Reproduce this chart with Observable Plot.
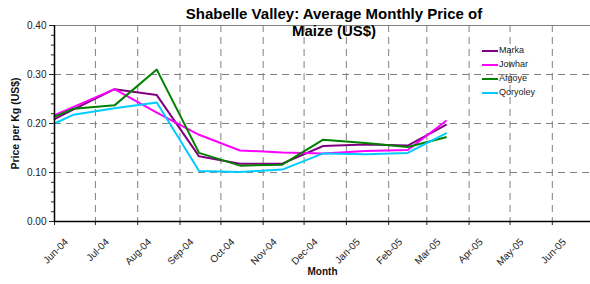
<!DOCTYPE html>
<html>
<head>
<meta charset="utf-8">
<script src="https://cdn.jsdelivr.net/npm/d3@7"></script>
<script src="https://cdn.jsdelivr.net/npm/@observablehq/plot@0.6"></script>
<style>
  html, body { margin: 0; padding: 0; background: white; }
  #wrap { position: relative; width: 590px; height: 284px; font-family: "Liberation Sans", Arial, sans-serif; }
  #title { position: absolute; left: 334px; top: 5px; transform: translateX(-50%); font-size: 15px; font-weight: bold; line-height: 17px; text-align: center; white-space: nowrap; color: #000; }
  #legend { position: absolute; left: 482px; top: 44px; font-size: 9px; color: #222; }
  .item { position: absolute; left: 0; height: 14px; white-space: nowrap; }
  .sw { position: absolute; left: 0; top: 6px; width: 16px; height: 2px; }
  .lab { position: absolute; left: 17px; top: 1px; }
</style>
</head>
<body>
<div id="wrap"></div>
<script>
const dates = ["2004-06-01","2004-06-15","2004-07-15","2004-08-15","2004-09-15","2004-10-15","2004-11-15","2004-12-15","2005-01-15","2005-02-15","2005-03-15"];
const seriesNames = ["Marka","Jowhar","Afgoye","Qoryoley"];
const seriesColors = ["#800080","#ff00ff","#008000","#00ccff"];
const marka    = [0.209, 0.229, 0.270, 0.258, 0.133, 0.118, 0.118, 0.154, 0.157, 0.155, 0.197];
const jowhar   = [0.217, 0.234, 0.270, 0.222, 0.177, 0.145, 0.141, 0.139, 0.144, 0.146, 0.205];
const afgoye   = [0.214, 0.230, 0.237, 0.310, 0.140, 0.114, 0.116, 0.167, 0.160, 0.152, 0.172];
const qoryoley = [0.200, 0.218, 0.231, 0.243, 0.103, 0.101, 0.106, 0.139, 0.137, 0.140, 0.180];
const monthTicks = ["2004-06-01","2004-07-01","2004-08-01","2004-09-01","2004-10-01","2004-11-01","2004-12-01","2005-01-01","2005-02-01","2005-03-01","2005-04-01","2005-05-01","2005-06-01"];
const yMajor = [0, 0.1, 0.2, 0.3, 0.4];
const yMinor = [0,0.02,0.04,0.06,0.08,0.1,0.12,0.14,0.16,0.18,0.2,0.22,0.24,0.26,0.28,0.3,0.32,0.34,0.36,0.38,0.4];
const xDomain = ["2004-06-01","2005-06-29"];

const seriesValues = [marka, jowhar, afgoye, qoryoley];
const rows = [];
seriesNames.forEach((s, i) => dates.forEach((d, j) => rows.push({series: s, date: new Date(d), value: seriesValues[i][j]})));
const months = monthTicks.map(d => new Date(d));
const fmt = d3.utcFormat("%b-%y");

const chart = Plot.plot({
  width: 590, height: 284,
  marginLeft: 54, marginRight: 0, marginTop: 25, marginBottom: 63,
  x: {type: "utc", domain: xDomain.map(d => new Date(d))},
  y: {domain: [0, 0.4]},
  color: {domain: seriesNames, range: seriesColors},
  style: {fontFamily: "'Liberation Sans', Arial, sans-serif", fontSize: "10px", color: "#222", background: "white", overflow: "visible"},
  marks: [
    Plot.gridX(months.slice(1), {stroke: "#808080", strokeOpacity: 1, strokeDasharray: "7,5"}),
    Plot.gridY(yMajor.slice(1, 4), {stroke: "#808080", strokeOpacity: 1, strokeDasharray: "7,5"}),
    Plot.ruleY([0.4], {stroke: "#808080"}),
    Plot.axisY(yMinor, {tickSize: 3, tickFormat: () => "", label: null}),
    Plot.axisY(yMajor, {tickSize: 5, tickPadding: 3, tickFormat: ".2f", label: null, fontSize: 10}),
    Plot.axisX(months, {tickSize: 4, tickFormat: () => "", label: null}),
    Plot.axisX(months, {tickSize: 0, tickRotate: -45, tickFormat: fmt, label: null, fontSize: 10, dx: 12, dy: 7, fill: "#222"}),
    Plot.line(rows, {x: "date", y: "value", stroke: "series", strokeWidth: 2, z: "series"}),
    Plot.ruleX([new Date(xDomain[0])], {stroke: "black", strokeWidth: 1.5}),
    Plot.ruleY([0], {stroke: "black", strokeWidth: 1.5}),
    Plot.text(["Price per Kg (US$)"], {frameAnchor: "left", textAnchor: "middle", rotate: -90, dx: -39, fontWeight: "bold", fontSize: 10.5, fill: "#111"}),
    Plot.text(["Month"], {frameAnchor: "bottom", dy: 53, fontWeight: "bold", fontSize: 10, fill: "#111"})
  ]
});

const wrap = document.getElementById("wrap");
wrap.appendChild(chart);

const title = document.createElement("div");
title.id = "title";
title.innerHTML = "Shabelle Valley: Average Monthly Price of<br>Maize (US$)";
wrap.appendChild(title);

const legend = document.createElement("div");
legend.id = "legend";
seriesNames.forEach((s, i) => {
  const it = document.createElement("div");
  it.className = "item";
  it.style.top = (i * 14) + "px";
  const sw = document.createElement("div");
  sw.className = "sw";
  sw.style.background = seriesColors[i];
  const lab = document.createElement("div");
  lab.className = "lab";
  lab.textContent = s;
  it.appendChild(sw); it.appendChild(lab);
  legend.appendChild(it);
});
wrap.appendChild(legend);
</script>
</body>
</html>
